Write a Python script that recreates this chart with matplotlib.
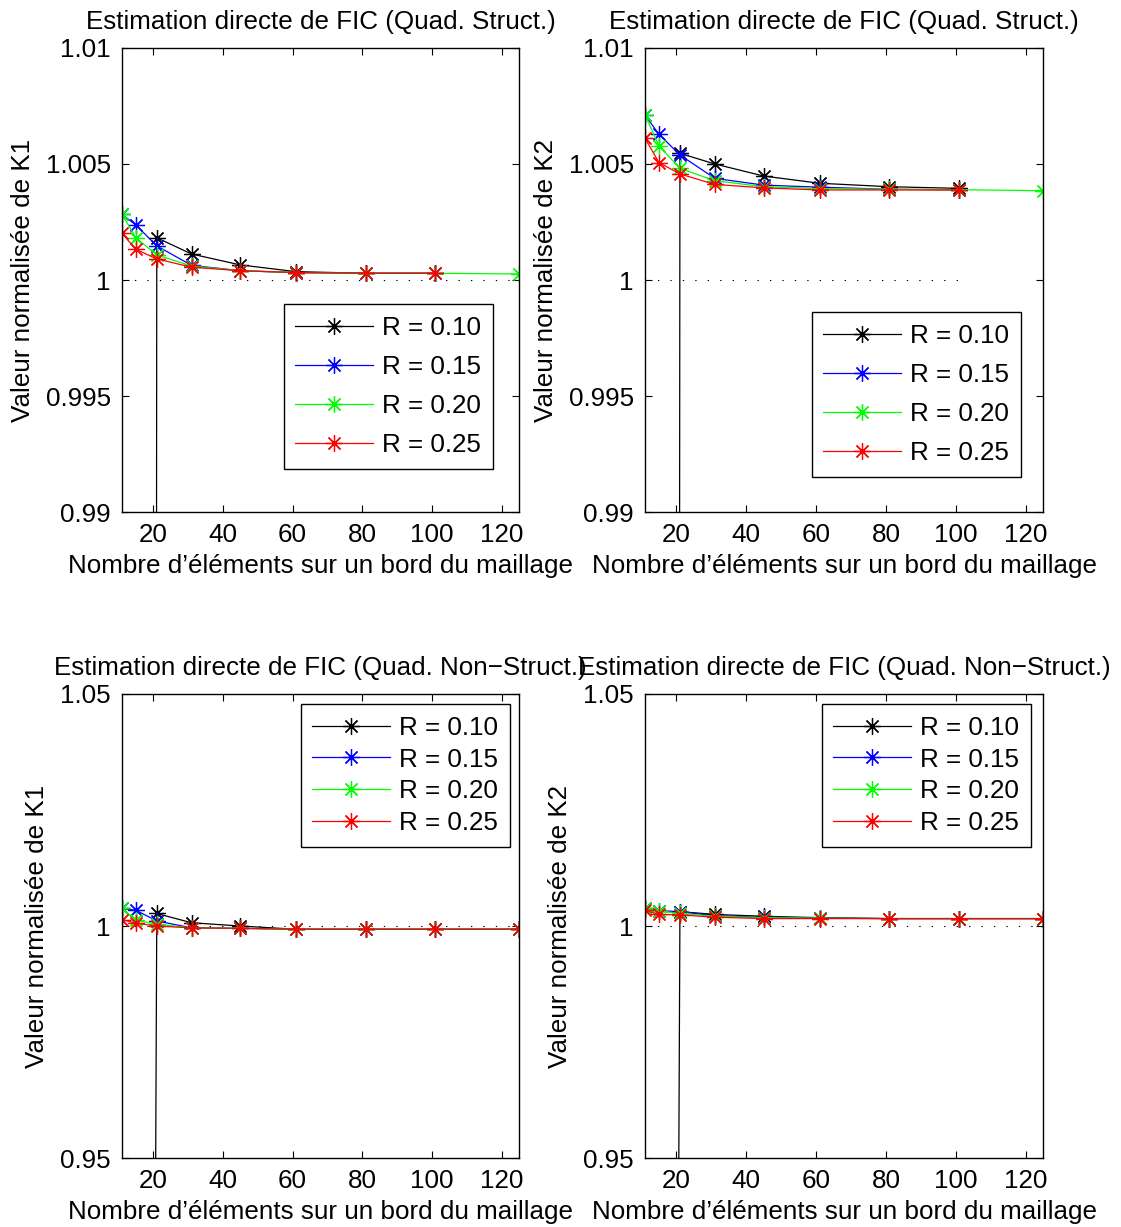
import numpy as np
import matplotlib
matplotlib.use('Agg')
import matplotlib.pyplot as plt

plt.rcParams['font.family'] = ['Liberation Sans', 'DejaVu Sans']
plt.rcParams['font.size'] = 18.7

# number of elements along one mesh edge
nb_elem = [11, 15, 21, 31, 45, 61, 81, 101, 125]
rayons = ['R = 0.10', 'R = 0.15', 'R = 0.20', 'R = 0.25']
couleurs = ['k', 'b', (0, 1, 0), 'r']

# missing values were stored as 0 in the original data (gives the vertical line at 21)
k1_struct_r10 = [0, 0, 1.00182, 1.00112, 1.00065, 1.00036, 1.00029, 1.00029]
k1_struct_r15 = [1.00283, 1.00237, 1.00147, 1.00063, 1.00040, 1.00032, 1.00029, 1.00029]
k1_struct_r20 = [1.00283, 1.00182, 1.00108, 1.00060, 1.00040, 1.00032, 1.00029, 1.00029, 1.00026]
k1_struct_r25 = [1.00201, 1.00132, 1.00091, 1.00055, 1.00040, 1.00032, 1.00029, 1.00029]

k2_struct_r10 = [0, 0, 1.00546, 1.00500, 1.00448, 1.00417, 1.00402, 1.00395]
k2_struct_r15 = [1.00711, 1.00628, 1.00539, 1.00438, 1.00409, 1.00400, 1.00391, 1.00389]
k2_struct_r20 = [1.00711, 1.00578, 1.00481, 1.00428, 1.00402, 1.00394, 1.00391, 1.00389, 1.00385]
k2_struct_r25 = [1.00611, 1.00506, 1.00457, 1.00412, 1.00397, 1.00388, 1.00388, 1.00388]

k1_nstruct_r10 = [0, 0, 1.0027, 1.0007, 1.0000, 0.9993, 0.9993, 0.9993, 0.9993]
k1_nstruct_r15 = [1.0038, 1.0034, 1.0011, 0.9996, 0.9995, 0.9993, 0.9993, 0.9993, 0.9993]
k1_nstruct_r20 = [1.0038, 1.0012, 1.0004, 0.9996, 0.9995, 0.9993, 0.9993, 0.9993, 0.9993]
k1_nstruct_r25 = [1.0014, 1.0006, 1.0000, 0.9996, 0.9995, 0.9993, 0.9993, 0.9993, 0.9993]

k2_nstruct_r10 = [0, 0, 1.0031, 1.0025, 1.0021, 1.0018, 1.0016, 1.0016, 1.0016]
k2_nstruct_r15 = [1.0038, 1.0033, 1.0031, 1.0022, 1.0019, 1.0017, 1.0016, 1.0016, 1.0016]
k2_nstruct_r20 = [1.0038, 1.0032, 1.0027, 1.0021, 1.0018, 1.0017, 1.0016, 1.0016, 1.0016]
k2_nstruct_r25 = [1.0034, 1.0025, 1.0024, 1.0019, 1.0016, 1.0016, 1.0016, 1.0016, 1.0016]

titre_s = 'Estimation directe de FIC (Quad. Struct.)'
titre_ns = 'Estimation directe de FIC (Quad. Non\u2212Struct.)'
xlab = 'Nombre d\u2019éléments sur un bord du maillage'

fig = plt.figure(figsize=(11.21, 12.27), dpi=100)

panels = [
    # position, series, title, ylabel, yticks, ticklabels, ref line end, legend anchor, labelspacing
    ([0.1088, 0.5827, 0.3541, 0.3782], [k1_struct_r10, k1_struct_r15, k1_struct_r20, k1_struct_r25],
     titre_s, 'Valeur normalisée de K1', [0.99, 0.995, 1, 1.005, 1.01],
     ['0.99', '0.995', '1', '1.005', '1.01'], 125, (0.4398, 0.7522), 0.58),
    ([0.5754, 0.5827, 0.3550, 0.3782], [k2_struct_r10, k2_struct_r15, k2_struct_r20, k2_struct_r25],
     titre_s, 'Valeur normalisée de K2', [0.99, 0.995, 1, 1.005, 1.01],
     ['0.99', '0.995', '1', '1.005', '1.01'], 101, (0.9108, 0.7457), 0.58),
    ([0.1088, 0.0562, 0.3541, 0.3782], [k1_nstruct_r10, k1_nstruct_r15, k1_nstruct_r20, k1_nstruct_r25],
     titre_ns, 'Valeur normalisée de K1', [0.95, 1, 1.05],
     ['0.95', '1', '1.05'], 125, (0.4550, 0.4262), 0.3),
    ([0.5754, 0.0562, 0.3550, 0.3782], [k2_nstruct_r10, k2_nstruct_r15, k2_nstruct_r20, k2_nstruct_r25],
     titre_ns, 'Valeur normalisée de K2', [0.95, 1, 1.05],
     ['0.95', '1', '1.05'], 125, (0.9197, 0.4262), 0.3),
]

for pos, series, titre, ylab, yt, ytl, xref, anchor, lsp in panels:
    ax = fig.add_axes(pos)
    ax.plot([11, xref], [1, 1], color='k', linewidth=0.8, linestyle=(0, (1.2, 10)))
    for vals, col, lab in zip(series, couleurs, rayons):
        ax.plot(nb_elem[:len(vals)], vals, color=col, linewidth=0.9,
                marker=(8, 2, 0), markersize=12, markeredgewidth=0.9, label=lab)
    ax.set_xlim(11, 125)
    ax.set_ylim(yt[0], yt[-1])
    ax.set_xticks([20, 40, 60, 80, 100, 120])
    ax.set_yticks(yt)
    ax.set_yticklabels(ytl)
    ax.tick_params(direction='in', top=True, right=True, length=5, width=0.8, pad=8)
    for sp in ax.spines.values():
        sp.set_linewidth(1.0)
    ax.set_title(titre, fontsize=18.7, pad=14)
    ax.set_xlabel(xlab, labelpad=5)
    ax.set_ylabel(ylab, labelpad=8)
    leg = ax.legend(loc='upper right', bbox_to_anchor=anchor, bbox_transform=fig.transFigure,
                    borderaxespad=0, numpoints=1, handlelength=3.0, labelspacing=lsp,
                    fancybox=False, framealpha=1, edgecolor='k', borderpad=0.45,
                    handletextpad=0.35)
    leg.get_frame().set_linewidth(1.0)

fig.savefig('out.png', dpi=100)
